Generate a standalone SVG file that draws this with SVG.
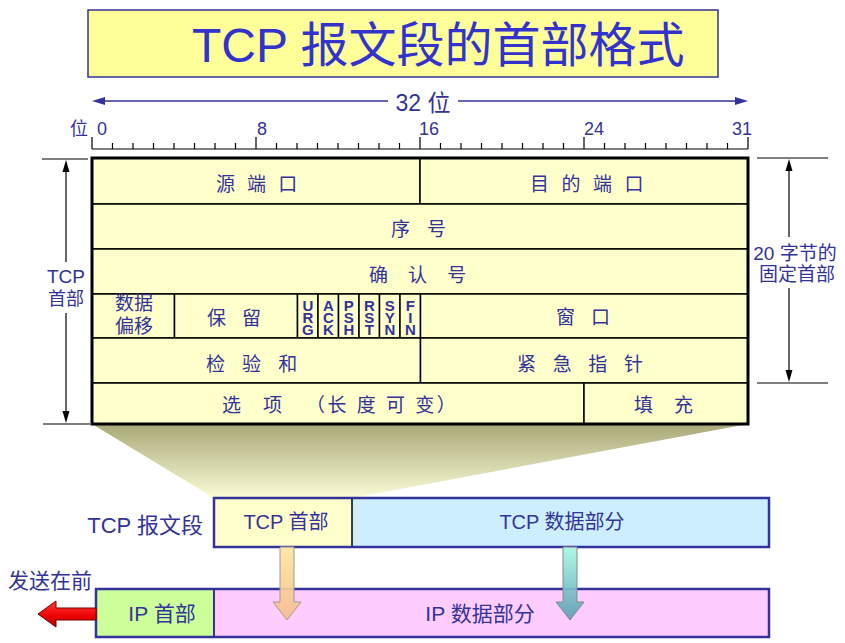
<svg xmlns="http://www.w3.org/2000/svg" width="845" height="643" viewBox="0 0 845 643">
<defs>
<style>
.t{font-family:"Liberation Sans","Noto Sans CJK SC",sans-serif;fill:#333399;}
.c{font-size:19px;}
.m{text-anchor:middle;}
.flag{font-family:"Liberation Sans",sans-serif;fill:#333399;font-size:15px;font-weight:bold;writing-mode:vertical-rl;text-orientation:upright;letter-spacing:-5.1px;}
.field{fill:#ffffcc;stroke:#000;stroke-width:1.5;}
.dim{stroke:#000;stroke-width:1.2;fill:none;}
.box{fill:none;stroke:#333399;stroke-width:2.5;}
</style>
<linearGradient id="shade" gradientUnits="userSpaceOnUse" x1="0" y1="424" x2="0" y2="498">
<stop offset="0" stop-color="#a8a878"/>
<stop offset="1" stop-color="#fbfbd6"/>
</linearGradient>
<linearGradient id="orange" x1="0" y1="0" x2="0" y2="1">
<stop offset="0" stop-color="#fde69c"/>
<stop offset="1" stop-color="#f5bd8e"/>
</linearGradient>
<linearGradient id="teal" x1="0" y1="0" x2="0" y2="1">
<stop offset="0" stop-color="#a8f7e4"/>
<stop offset="1" stop-color="#5b9db3"/>
</linearGradient>
<linearGradient id="red" x1="0" y1="0" x2="0" y2="1">
<stop offset="0" stop-color="#ff3a3a"/>
<stop offset="0.6" stop-color="#ee0000"/>
<stop offset="1" stop-color="#a00000"/>
</linearGradient>
</defs>
<rect width="845" height="643" fill="#ffffff"/>

<g id="title">
<rect x="88" y="10" width="630" height="67" fill="#ffff99" stroke="#333399" stroke-width="1.5"/>
<text class="t" x="192" y="62" font-size="48" style="fill:#3333cc">TCP 报文段的首部格式</text>
</g>

<g id="width-dimension">
<line x1="96" y1="101" x2="388" y2="101" stroke="#333399" stroke-width="1.5"/>
<line x1="458" y1="101" x2="744" y2="101" stroke="#333399" stroke-width="1.5"/>
<polygon points="92,101 105,97 105,105" fill="#333399"/>
<polygon points="748,101 735,97 735,105" fill="#333399"/>
<text class="t m" x="423" y="111" font-size="23">32 位</text>
</g>

<g id="ruler">
<path d="M92 149H748M92 137V149M112.5 143V149M133 143V149M153.5 143V149M174 143V149M194.5 143V149M215 143V149M235.5 143V149M256 137V149M276.5 143V149M297 143V149M317.5 143V149M338 143V149M358.5 143V149M379 143V149M399.5 143V149M420 137V149M440.5 143V149M461 143V149M481.5 143V149M502 143V149M522.5 143V149M543 143V149M563.5 143V149M584 137V149M604.5 143V149M625 143V149M645.5 143V149M666 143V149M686.5 143V149M707 143V149M727.5 143V149M748 137V149" stroke="#000" stroke-width="1.2" fill="none"/>
<text class="t" x="70" y="135" font-size="18">位</text>
<text class="t" x="97" y="135" font-size="18">0</text>
<text class="t" x="257" y="135" font-size="18">8</text>
<text class="t" x="419" y="135" font-size="18">16</text>
<text class="t" x="584" y="135" font-size="18">24</text>
<text class="t" x="752" y="135" font-size="18" text-anchor="end">31</text>
</g>

<polygon id="zoom-shade" points="92,424 748,424 352,498 214,498" fill="url(#shade)"/>

<g id="tcp-header">
<g id="src-port"><rect class="field" x="92" y="158" width="328" height="46"/><text class="t c" x="216" y="191" letter-spacing="3.4">源 端 口</text></g>
<g id="dst-port"><rect class="field" x="420" y="158" width="328" height="46"/><text class="t c" x="530" y="191" letter-spacing="3.6">目 的 端 口</text></g>
<g id="seq"><rect class="field" x="92" y="204" width="656" height="45"/><text class="t c" x="391" y="236" letter-spacing="5.9">序 号</text></g>
<g id="ack-num"><rect class="field" x="92" y="249" width="656" height="45"/><text class="t c" x="369" y="282" letter-spacing="7.4">确 认 号</text></g>
<g id="data-offset"><rect class="field" x="92" y="294" width="82.5" height="44"/><text class="t c m" x="134" y="310">数据</text><text class="t c m" x="134" y="333">偏移</text></g>
<g id="reserved"><rect class="field" x="174.5" y="294" width="123" height="44"/><text class="t c" x="207" y="325" letter-spacing="5.4">保 留</text></g>
<g id="flag-urg"><rect class="field" x="297.5" y="294" width="20.5" height="44"/><text class="flag" x="307.8" y="297.2">URG</text></g>
<g id="flag-ack"><rect class="field" x="318" y="294" width="20.5" height="44"/><text class="flag" x="328.3" y="297.2">ACK</text></g>
<g id="flag-psh"><rect class="field" x="338.5" y="294" width="20.5" height="44"/><text class="flag" x="348.8" y="297.2">PSH</text></g>
<g id="flag-rst"><rect class="field" x="359" y="294" width="20.5" height="44"/><text class="flag" x="369.3" y="297.2">RST</text></g>
<g id="flag-syn"><rect class="field" x="379.5" y="294" width="20.5" height="44"/><text class="flag" x="389.8" y="297.2">SYN</text></g>
<g id="flag-fin"><rect class="field" x="400" y="294" width="20.5" height="44"/><text class="flag" x="410.3" y="297.2">FIN</text></g>
<g id="window"><rect class="field" x="420.5" y="294" width="327.5" height="44"/><text class="t c" x="556" y="324" letter-spacing="5.4">窗 口</text></g>
<g id="checksum"><rect class="field" x="92" y="338" width="328.5" height="45"/><text class="t c" x="206" y="371" letter-spacing="5.9">检 验 和</text></g>
<g id="urgent"><rect class="field" x="420.5" y="338" width="327.5" height="45"/><text class="t c" x="517" y="371" letter-spacing="5.7">紧 急 指 针</text></g>
<g id="options"><rect class="field" x="92" y="383" width="492" height="41"/><text class="t c" x="222" y="412"><tspan letter-spacing="8.4">选 项</tspan><tspan x="306" letter-spacing="2.5">（长 度 可 变）</tspan></text></g>
<g id="padding"><rect class="field" x="584" y="383" width="164" height="41"/><text class="t c" x="634" y="412" letter-spacing="7.9">填 充</text></g>
<rect x="92" y="158" width="656" height="266" fill="none" stroke="#000" stroke-width="3"/>
</g>

<g id="header-dimension">
<line class="dim" x1="42" y1="159" x2="88" y2="159"/>
<line class="dim" x1="43" y1="424" x2="90" y2="424"/>
<line class="dim" x1="66" y1="170" x2="66" y2="262"/>
<line class="dim" x1="66" y1="313" x2="66" y2="413"/>
<polygon points="66,160 62.5,172 69.5,172" fill="#000"/>
<polygon points="66,423 62.5,411 69.5,411" fill="#000"/>
<text class="t m" x="66" y="283" font-size="19">TCP</text>
<text class="t m" x="66" y="305" font-size="18">首部</text>
</g>

<g id="fixed-dimension">
<line class="dim" x1="757" y1="158" x2="828" y2="158"/>
<line class="dim" x1="757" y1="383" x2="828" y2="383"/>
<line class="dim" x1="789" y1="169" x2="789" y2="237"/>
<line class="dim" x1="789" y1="288" x2="789" y2="372"/>
<polygon points="789,159 785.5,171 792.5,171" fill="#000"/>
<polygon points="789,382 785.5,370 792.5,370" fill="#000"/>
<text class="t m" x="795" y="260" font-size="19">20 字节的</text>
<text class="t m" x="797" y="281" font-size="19">固定首部</text>
</g>

<g id="tcp-segment">
<rect x="214" y="498" width="138" height="49" fill="#ffffcc"/>
<rect x="352" y="498" width="417" height="49" fill="#cceeff"/>
<line x1="352" y1="498" x2="352" y2="547" stroke="#000" stroke-width="1.5"/>
<rect class="box" x="214" y="498" width="555" height="49"/>
<text class="t" x="203" y="533" font-size="22" text-anchor="end">TCP 报文段</text>
<text class="t m" x="286" y="529" font-size="20">TCP 首部</text>
<text class="t m" x="562" y="529" font-size="20">TCP 数据部分</text>
</g>

<g id="ip-datagram">
<rect x="96" y="589" width="118" height="48" fill="#ccff99"/>
<rect x="214" y="589" width="555" height="48" fill="#ffccff"/>
<line x1="214" y1="589" x2="214" y2="637" stroke="#333399" stroke-width="2"/>
<rect class="box" x="96" y="589" width="673" height="48"/>
<text class="t m" x="162" y="621" font-size="21">IP 首部</text>
<text class="t m" x="480" y="621" font-size="21">IP 数据部分</text>
<text class="t" x="8" y="588" font-size="21">发送在前</text>
</g>

<g id="connectors">
<path d="M280 547H294V602H301L287 620L273 602H280Z" fill="url(#orange)" fill-opacity="0.92" stroke="#999" stroke-width="1"/>
<path d="M563 547H577V602H584L570 620L556 602H563Z" fill="url(#teal)" fill-opacity="0.92" stroke="#888" stroke-width="1"/>
<path d="M96 608H56V601L38 614L56 627V620H96Z" fill="url(#red)" stroke="#7a0000" stroke-width="1"/>
</g>
</svg>
